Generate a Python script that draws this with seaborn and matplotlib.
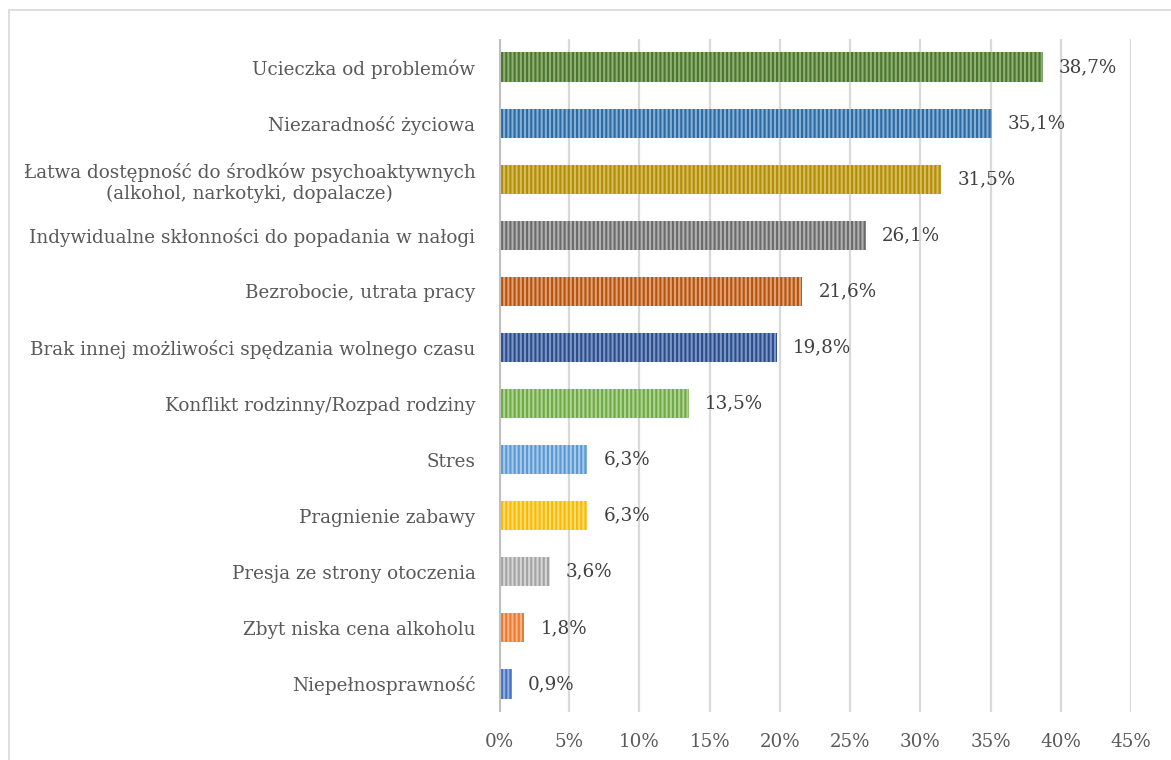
"""Horizontal bar chart: przyczyny uzależnień (odsetek odpowiedzi)."""

import matplotlib
matplotlib.use("Agg")
import matplotlib.pyplot as plt
from matplotlib.patches import Rectangle
import pandas as pd
import seaborn as sns

categories = [
    "Ucieczka od problemów",
    "Niezaradność życiowa",
    "Łatwa dostępność do środków psychoaktywnych\n(alkohol, narkotyki, dopalacze)",
    "Indywidualne skłonności do popadania w nałogi",
    "Bezrobocie, utrata pracy",
    "Brak innej możliwości spędzania wolnego czasu",
    "Konflikt rodzinny/Rozpad rodziny",
    "Stres",
    "Pragnienie zabawy",
    "Presja ze strony otoczenia",
    "Zbyt niska cena alkoholu",
    "Niepełnosprawność",
]
values = [38.7, 35.1, 31.5, 26.1, 21.6, 19.8, 13.5, 6.3, 6.3, 3.6, 1.8, 0.9]

# light face + dark stripes, per bar
face_colors = ["#8EB172", "#86AFD6", "#D8BC58", "#B0B0B0", "#E2A073", "#7A97C8",
               "#AED493", "#A7CAEA", "#FFDA78", "#D6D6D6", "#F6B68B", "#95B0DF"]
stripe_colors = ["#4B7530", "#2C6AA3", "#B18D0C", "#6B6B6B", "#B4550F", "#2E4C8A",
                 "#6FAA45", "#5A98D2", "#F5BC00", "#A3A3A3", "#EB7A2F", "#4471C2"]

df = pd.DataFrame({"cat": categories, "val": values})

sns.set_theme(style="white")
plt.rcParams["font.family"] = ["DejaVu Serif"]
plt.rcParams["hatch.linewidth"] = 1.5

fig = plt.figure(figsize=(11.71, 7.6), dpi=100)
ax = fig.add_axes([499 / 1171, 1 - 712 / 760, (1131 - 499) / 1171, (712 - 39) / 760])

sns.barplot(data=df, y="cat", x="val", hue="cat", palette=face_colors,
            legend=False, orient="h", width=0.52, ax=ax, saturation=1)

for patch, sc in zip(ax.patches, stripe_colors):
    patch.set_edgecolor(sc)
    patch.set_linewidth(0)
    patch.set_hatch("||||")

for i, v in enumerate(values):
    ax.text(v + 1.15, i, f"{v:.1f}%".replace(".", ","), va="center", ha="left",
            fontsize=13.2, color="#404040")

ax.set_xlim(0, 45)
ax.set_ylim(11.5, -0.5)
ax.set_xticks(range(0, 50, 5))
ax.set_xticklabels([f"{t}%" for t in range(0, 50, 5)])
ax.xaxis.grid(True, color="#D9D9D9", linewidth=1.6)
ax.set_axisbelow(True)
ax.axvline(0, color="#BFBFBF", linewidth=3, zorder=3)
for s in ax.spines.values():
    s.set_visible(False)
ax.tick_params(axis="both", length=0, labelsize=13.2, labelcolor="#595959")
ax.tick_params(axis="y", pad=17)
ax.tick_params(axis="x", pad=15)
ax.set_xlabel("")
ax.set_ylabel("")
for lbl in ax.get_yticklabels():
    lbl.set_multialignment("center")

# light chart frame
fig.patches.append(Rectangle((9 / 1171, -0.1), 1.2, 1 - 10 / 760 + 0.1,
                             transform=fig.transFigure, fill=False,
                             edgecolor="#D9D9D9", linewidth=1.2))

fig.savefig("out.png", dpi=100)
